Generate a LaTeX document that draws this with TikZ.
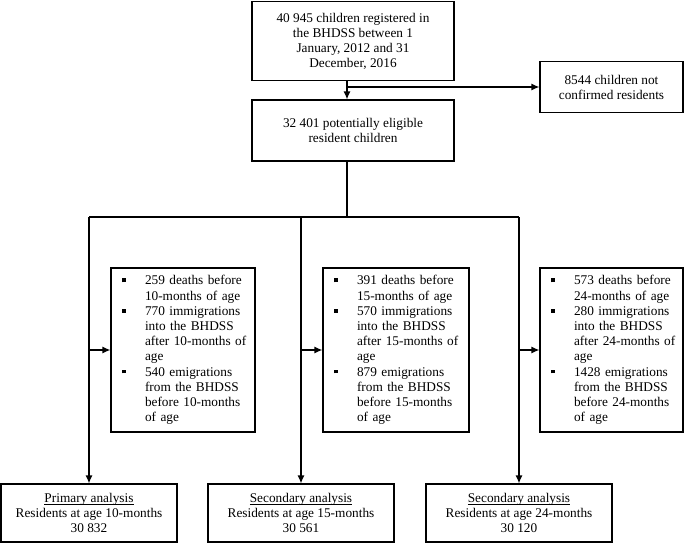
\documentclass[tikz,border=0pt]{standalone}
\usepackage{fontspec}
\setmainfont{Liberation Serif}
\usetikzlibrary{arrows.meta}
\newcommand{\bl}[1]{\makebox[34pt][l]{\hspace{11pt}\rule[2.6pt]{3.8pt}{3.8pt}}#1}
\newcommand{\cl}[1]{\hspace*{34pt}#1}
\newsavebox{\ulbox}
\newcommand{\myul}[1]{\sbox{\ulbox}{#1}\rlap{\rule[-2.2pt]{\wd\ulbox}{0.6pt}}\usebox{\ulbox}}
\tikzset{
  box/.style={draw, line width=1.2pt, rectangle, align=center, inner sep=0pt,
    font=\fontsize{13.3}{15}\selectfont},
  listbox/.style={draw, line width=1.2pt, rectangle, align=left, inner sep=0pt,
    font=\fontsize{13.3}{15.2}\selectfont, text width=#1},
  line/.style={line width=1.2pt},
  arr/.style={line width=1.2pt, -{Latex[length=8pt,width=7pt]}}
}
\begin{document}
\begin{tikzpicture}[x=1pt,y=-1pt]
\useasboundingbox (0,0) rectangle (685,544);
% top box
\node[box, minimum width=202pt, minimum height=79pt] (top) at (353,41)
  {40 945 children registered in\\ the BHDSS between 1\\ January, 2012 and 31\\ December, 2016};
\node[box, minimum width=202pt, minimum height=61pt] (elig) at (353,130.5)
  {32 401 potentially eligible\\ resident children};
\node[box, minimum width=143pt, minimum height=51pt] (notc) at (611.5,87)
  {8544 children not\\ confirmed residents};
\coordinate (br) at (347,87);
\draw[arr] (top.south -| br) -- (elig.north -| br);
\draw[arr] (br) -- (notc.west);
% middle lists
\node[listbox=144pt, minimum width=144pt, minimum height=164pt] (la) at (183,350)
  {\bl{259 deaths before}\\ \cl{10-months of age}\\ \bl{770 immigrations}\\ \cl{into the BHDSS}\\ \cl{after 10-months of}\\ \cl{age}\\ \bl{540 emigrations}\\ \cl{from the BHDSS}\\ \cl{before 10-months}\\ \cl{of age}};
\node[listbox=146pt, minimum width=146pt, minimum height=164pt] (lb) at (396,350)
  {\bl{391 deaths before}\\ \cl{15-months of age}\\ \bl{570 immigrations}\\ \cl{into the BHDSS}\\ \cl{after 15-months of}\\ \cl{age}\\ \bl{879 emigrations}\\ \cl{from the BHDSS}\\ \cl{before 15-months}\\ \cl{of age}};
\node[listbox=143pt, minimum width=143pt, minimum height=164pt] (lc) at (611.5,350)
  {\bl{573 deaths before}\\ \cl{24-months of age}\\ \bl{280 immigrations}\\ \cl{into the BHDSS}\\ \cl{after 24-months of}\\ \cl{age}\\ \bl{1428 emigrations}\\ \cl{from the BHDSS}\\ \cl{before 24-months}\\ \cl{of age}};
% bottom boxes
\node[box, minimum width=176pt, minimum height=58pt] (ra) at (89,513)
  {\myul{Primary analysis}\\ Residents at age 10-months\\ 30 832};
\node[box, minimum width=186pt, minimum height=58pt] (rb) at (301,513)
  {\myul{Secondary analysis}\\ Residents at age 15-months\\ 30 561};
\node[box, minimum width=186pt, minimum height=58pt] (rc) at (519,513)
  {\myul{Secondary analysis}\\ Residents at age 24-months\\ 30 120};
% trunk
\coordinate (j) at (347,217);
\coordinate (c1) at (89,217);
\coordinate (c2) at (301,217);
\coordinate (c3) at (519,217);
\draw[line] (elig.south -| j) -- (j);
\draw[line] (c1) -- (c3);
\draw[arr] (c1) -- (ra.north);
\draw[arr] (c2) -- (rb.north);
\draw[arr] (c3) -- (rc.north);
\draw[arr] (la.west -| c1) -- (la.west);
\draw[arr] (lb.west -| c2) -- (lb.west);
\draw[arr] (lc.west -| c3) -- (lc.west);
\end{tikzpicture}
\end{document}
